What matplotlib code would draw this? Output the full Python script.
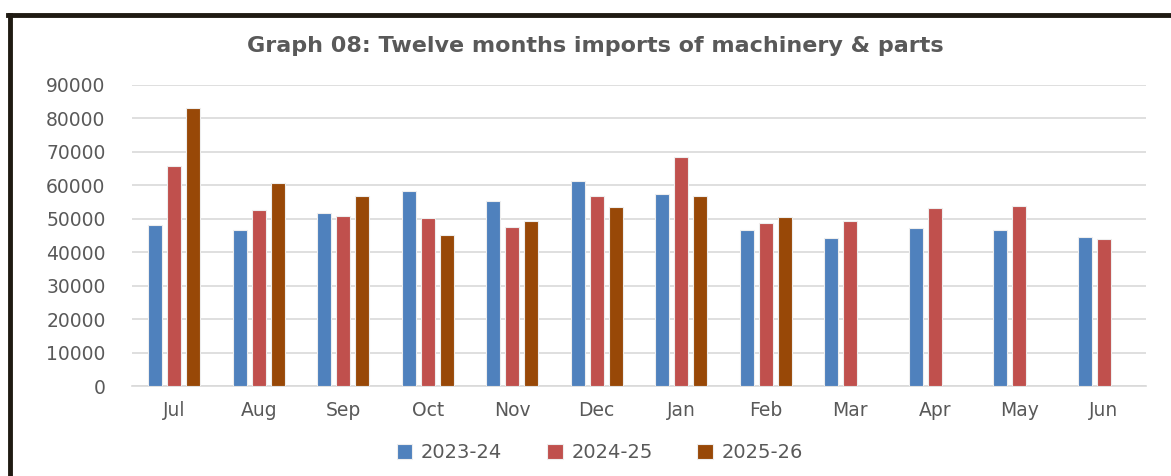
import matplotlib.pyplot as plt
import numpy as np
from matplotlib.lines import Line2D

months = ['Jul', 'Aug', 'Sep', 'Oct', 'Nov', 'Dec', 'Jan', 'Feb', 'Mar', 'Apr', 'May', 'Jun']
fy_2023_24 = [48200, 46700, 51700, 58300, 55300, 61400, 57300, 46600, 44400, 47200, 46600, 44500]
fy_2024_25 = [65800, 52600, 50700, 50300, 47600, 56800, 68400, 48700, 49300, 53100, 53700, 43900]
fy_2025_26 = [83000, 60800, 56900, 45100, 49200, 53400, 56800, 50600]
series_names = ['2023-24', '2024-25', '2025-26']
colors = ['#4F81BD', '#C0504D', '#984807']

plt.rcParams['font.family'] = ['DejaVu Sans']
gray = '#595959'

fig = plt.figure(figsize=(11.71, 4.76), dpi=100)
ax = fig.add_axes([132/1171, 1 - 386/476, 1014/1171, 301/476])

x = np.arange(len(months))
w = 0.166
step = 0.225
for i, (vals, name, c) in enumerate(zip([fy_2023_24, fy_2024_25, fy_2025_26], series_names, colors)):
    xi = x[:len(vals)] + (i - 1) * step
    ax.bar(xi, vals, width=w, color=c, edgecolor='#EEEEEE', linewidth=0.8, label=name, zorder=3)

ax.set_xlim(-0.5, len(months) - 0.5)
ax.set_ylim(0, 90000)
ax.set_yticks(np.arange(0, 90001, 10000))
ax.yaxis.grid(True, color='#D9D9D9', linewidth=1.2, zorder=0)
ax.set_xticks(x)
ax.set_xticklabels(months)
ax.tick_params(length=0, labelsize=13.5, colors=gray)
ax.tick_params(axis='y', pad=19)
ax.tick_params(axis='x', pad=11)
for s in ['top', 'right', 'left']:
    ax.spines[s].set_visible(False)
ax.spines['bottom'].set_color('#D9D9D9')
ax.spines['bottom'].set_linewidth(1.2)

fig.text(595/1171, 1 - 46/476, 'Graph 08: Twelve months imports of machinery & parts',
         ha='center', va='center', fontsize=16, fontweight='bold', color=gray)

leg = fig.legend(loc='center', bbox_to_anchor=(600/1171, 1 - 453/476), ncol=3, frameon=False,
                 fontsize=14, handlelength=0.8, handleheight=0.8, columnspacing=2.3, handletextpad=0.45)
for t in leg.get_texts():
    t.set_color(gray)

# outer frame (top and left edges visible)
fig.add_artist(Line2D([8/1171, 1], [1 - 15/476, 1 - 15/476], color='#1F1A12', linewidth=3.5))
fig.add_artist(Line2D([10/1171, 10/1171], [0, 1 - 15/476], color='#1F1A12', linewidth=3.5))

fig.savefig('out.png', dpi=100)
